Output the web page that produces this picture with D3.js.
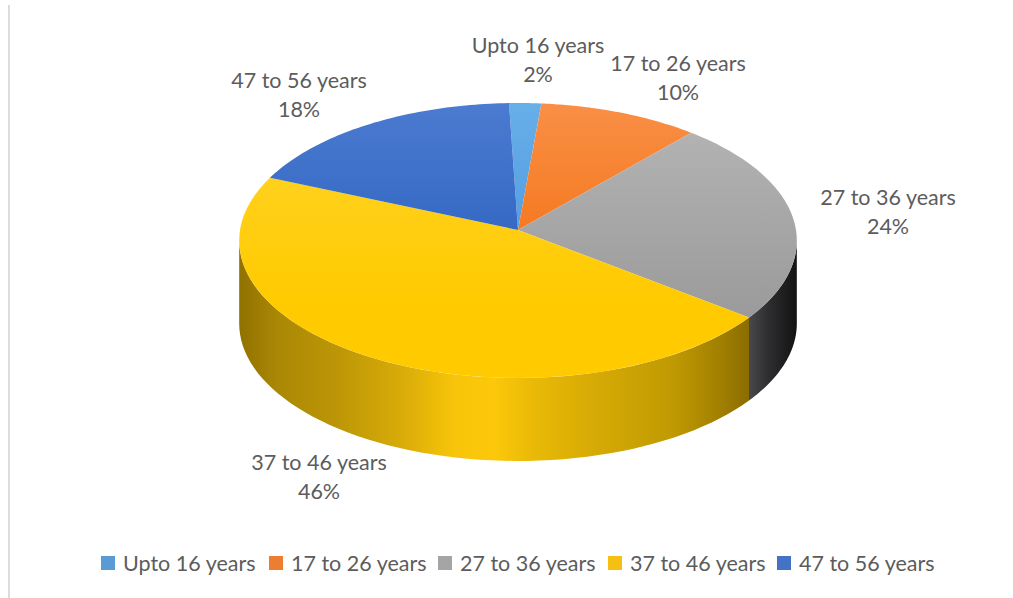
<!DOCTYPE html>
<html>
<head>
<meta charset="utf-8">
<script src="https://cdn.jsdelivr.net/npm/d3@7/dist/d3.min.js"></script>
<style>
html,body{margin:0;padding:0;background:#fff;}
svg{display:block;}
text{font-family:Lato,"Open Sans",sans-serif;fill:#5c5c5c;}
</style>
</head>
<body>
<script>
// Age groups and their share of respondents (%)
const categories = ["Upto 16 years","17 to 26 years","27 to 36 years","37 to 46 years","47 to 56 years"];
const shares = [2,10,24,46,18];
const sliceTop = ["#66afe9","#f98f46","#b6b6b6","#ffd52e","#4c7bd0"];
const sliceBottom = ["#569ee0","#f57a22","#9a9a9a","#ffca00","#3469c4"];
const legendColors = ["#5b9bd5","#ed7d31","#a5a5a5","#f5c011","#4472c4"];

// Where the name/percentage label of each slice is centred
const labelX = [538,678,888,319,299];
const labelY = [46,64,198,463,81];
const legendX = [101,269,438,608,777];

const W = 1013, H = 598;
const svg = d3.select("body").append("svg").attr("width",W).attr("height",H);
const defs = svg.append("defs");

// Tilted disc: a circle seen with slight perspective, so the far half looks smaller
const cx = 518, cy = 230, rx = 278, ry = 136.7, persp = 0.0763, depth = 83;
const project = a => {
  const w = 1 + persp*Math.cos(a);
  return [cx + rx*Math.sin(a)/w, cy - ry*Math.cos(a)/w];
};
const arcPoints = (a0,a1) => d3.range(0,61).map(i => project(a0+(a1-a0)*i/60));
const path = d3.line();

const pie = d3.pie().sort(null).startAngle(-2*Math.PI/180).endAngle(2*Math.PI-2*Math.PI/180);
const slices = pie(shares);

// Gradients of the rim
const rimGold = defs.append("linearGradient").attr("id","rimGold")
  .attr("gradientUnits","userSpaceOnUse").attr("x1",237).attr("x2",750).attr("y1",0).attr("y2",0);
[[0,"#8f7000"],[0.08,"#ab8805"],[0.2,"#bd9706"],[0.32,"#d8ab08"],[0.42,"#f7c409"],[0.5,"#fdc80a"],[0.58,"#e8b907"],[0.7,"#d6aa05"],[0.85,"#c09a03"],[0.95,"#9e7d00"],[1,"#8a6c00"]]
  .forEach(s => rimGold.append("stop").attr("offset",s[0]).attr("stop-color",s[1]));
const rimDark = defs.append("linearGradient").attr("id","rimDark")
  .attr("gradientUnits","userSpaceOnUse").attr("x1",748).attr("x2",798).attr("y1",0).attr("y2",0);
[[0,"#4a4a4e"],[0.4,"#2e2e30"],[1,"#111112"]]
  .forEach(s => rimDark.append("stop").attr("offset",s[0]).attr("stop-color",s[1]));

// Each slice of the top face fades gently from its far edge to the centre
slices.forEach((s,i) => {
  const g = defs.append("linearGradient").attr("id","face"+i)
    .attr("gradientUnits","userSpaceOnUse").attr("x1",0).attr("x2",0).attr("y1",103).attr("y2",i===3?300:(i===2?320:230));
  g.append("stop").attr("offset",0).attr("stop-color",sliceTop[i]);
  g.append("stop").attr("offset",1).attr("stop-color",sliceBottom[i]);
});

// Rim: only the stretch of the edge facing the viewer shows
const rimStart = Math.acos(-persp), rimEnd = 2*Math.PI - rimStart;
const rimFills = [null,null,"url(#rimDark)","url(#rimGold)",null];
slices.forEach((s,i) => {
  const a0 = Math.max(s.startAngle,rimStart), a1 = Math.min(s.endAngle,rimEnd);
  if (a1 <= a0 || !rimFills[i]) return;
  const top = arcPoints(a0,a1);
  const bottom = top.map(p => [p[0],p[1]+depth]).reverse();
  svg.append("path").attr("d",path(top.concat(bottom))+"Z").attr("fill",rimFills[i]);
});

// Top face
slices.forEach((s,i) => {
  const pts = [[cx,cy]].concat(arcPoints(s.startAngle,s.endAngle));
  svg.append("path").attr("d",path(pts)+"Z").attr("fill","url(#face"+i+")");
});

// Slice labels
categories.forEach((c,i) => {
  const t = svg.append("text").attr("text-anchor","middle").attr("font-size",21.5);
  t.append("tspan").attr("x",labelX[i]).attr("y",labelY[i]+7).text(c);
  t.append("tspan").attr("x",labelX[i]).attr("y",labelY[i]+36).text(shares[i]+"%");
});

// Legend
categories.forEach((c,i) => {
  svg.append("rect").attr("x",legendX[i]).attr("y",556).attr("width",14).attr("height",14).attr("fill",legendColors[i]);
  svg.append("text").attr("x",legendX[i]+22).attr("y",571).attr("font-size",21.5).text(c);
});

// Thin frame line down the left side
svg.append("line").attr("x1",9).attr("x2",9).attr("y1",5).attr("y2",H).attr("stroke","#dcdcdc").attr("stroke-width",2);
</script>
</body>
</html>
